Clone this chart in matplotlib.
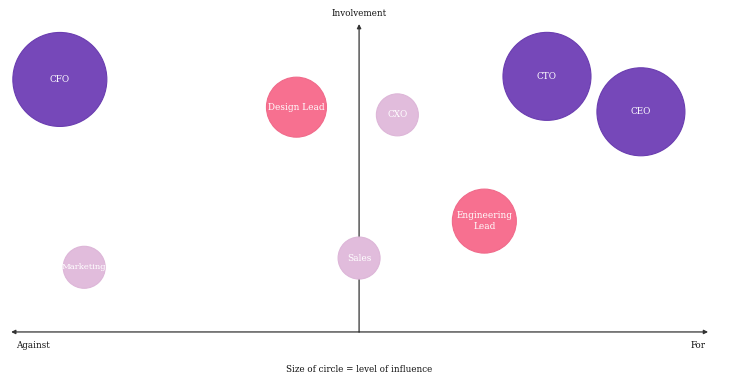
import numpy as np
import matplotlib.pyplot as plt

# stakeholder map: x = against (-100) .. for (+100), y = involvement (0..100)
names = ["CFO", "Design Lead", "CXO", "CTO", "CEO", "Engineering\nLead", "Marketing", "Sales"]
stance = [-86, -18, 11, 54, 81, 36, -79, 0]
involvement = [82, 73, 70.5, 83, 71.5, 36, 21, 24]
influence = [4.7, 3.0, 2.1, 4.4, 4.4, 3.2, 2.1, 2.1]
group = ["high", "mid", "low", "high", "high", "mid", "low", "low"]

colors = {"high": "#7648B9", "mid": "#F77090", "low": "#E1BCDC"}
edges = {"high": "#6A3DB0", "mid": "#F06A8A", "low": "#DDB6D8"}

plt.rcParams['font.family'] = ['DejaVu Serif']

fig = plt.figure(figsize=(7.3, 3.84), dpi=100)
ax = fig.add_axes([0, 0, 1, 1])
ax.set_xlim(-103.2, 106.6)
ax.set_ylim(-16.9, 107.8)
ax.axis('off')

# radius in px -> marker size in pt^2
px_per_unit = 10
sizes = [(2 * r * px_per_unit * 0.72) ** 2 for r in influence]
ax.scatter(stance, involvement, s=sizes,
           c=[colors[g] for g in group],
           edgecolors=[edges[g] for g in group], linewidths=0.8, zorder=3)

for n, x, y in zip(names, stance, involvement):
    fs = 6.4 if n != "Marketing" else 6.1
    ax.text(x, y, n, color='white', ha='center', va='center',
            fontsize=fs, zorder=4, linespacing=1.3)

# axes arrows
arrow = dict(arrowstyle='-|>', color='#333333', lw=0.9, mutation_scale=6,
             shrinkA=0, shrinkB=0)
ax.annotate('', xy=(-100, 0), xytext=(0, 0), arrowprops=arrow, zorder=1)
ax.annotate('', xy=(100.3, 0), xytext=(0, 0), arrowprops=arrow, zorder=1)
ax.annotate('', xy=(0, 100), xytext=(0, 0), arrowprops=arrow, zorder=1)

lab = dict(fontsize=6.3, color='#111111', va='center')
ax.text(0, 103.5, "Involvement", ha='center', **lab)
ax.text(-98.5, -4.5, "Against", ha='left', **lab)
ax.text(99.5, -4.5, "For", ha='right', **lab)
ax.text(0, -12.3, "Size of circle = level of influence", ha='center', **lab)

fig.savefig("out.png", dpi=100)
